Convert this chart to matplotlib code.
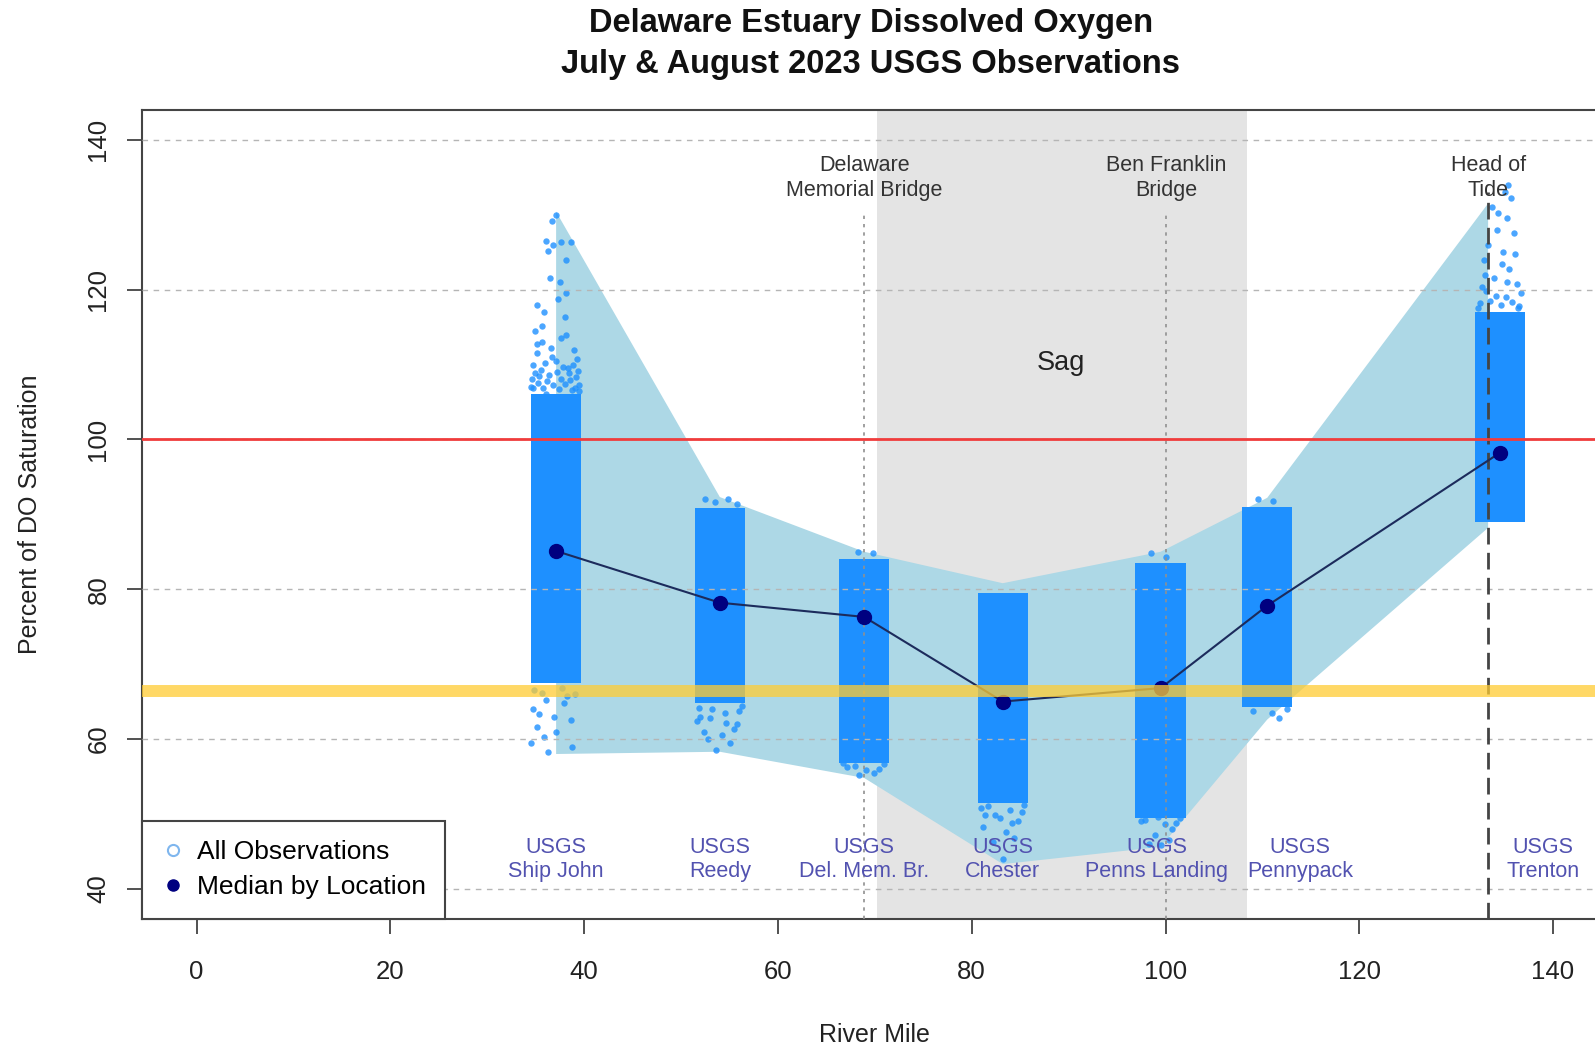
import matplotlib
matplotlib.use("Agg")
import matplotlib.pyplot as plt
from matplotlib.lines import Line2D

plt.rcParams['font.family'] = ['Liberation Sans', 'DejaVu Sans']

# ---------------- data ----------------
station_names = ["USGS\nShip John", "USGS\nReedy", "USGS\nDel. Mem. Br.", "USGS\nChester",
                 "USGS\nPenns Landing", "USGS\nPennypack", "USGS\nTrenton"]
station_mile = [37.1, 54.0, 68.9, 83.2, 99.5, 110.5, 134.5]
label_mile = [37.1, 54.0, 68.9, 83.2, 99.1, 113.9, 139.0]
median_do = [85.1, 78.2, 76.3, 65.0, 66.8, 77.8, 98.2]

# dense part of each observation cloud (low, high)
core_low = [67.5, 64.8, 56.8, 51.5, 49.5, 64.3, 89.0]
core_high = [106.0, 90.8, 84.0, 79.5, 83.5, 91.0, 117.0]

# envelope of observations (min / max by location)
envelope_mile = [37.1, 54.0, 68.9, 83.2, 99.5, 110.5, 133.3]
envelope_max = [130.4, 92.3, 85.0, 80.8, 85.0, 92.2, 131.5]
envelope_min = [58.0, 58.3, 54.8, 43.3, 45.6, 62.6, 88.2]

# sparse observations outside the dense part (offset from station mile, value)
shipjohn_dx = [0.0, -0.4, -1.0, -0.3, 0.5, 1.5, -0.8, 1.0, -0.6, 0.4, 1.0, 0.2, -2.0, -1.2, 0.9,
               -2.2, -1.5, -0.5, 1.8, 2.2, -2.4, 1.2, -1.8, 0.5, -2.6, 2.4, -1.0, 1.6, 0.0, -2.0,
               -2.4, -1.9, -1.4, -0.9, -0.3, 0.3, 0.9, 1.4, 1.9, 2.4, -2.2, -1.6, -0.7, 0.1,
               0.7, 1.3, 2.1, -2.5, -1.1, 1.7, -2.0, -0.4, 0.5, 2.3, -1.5, 1.0,
               -2.3, -1.0, 0.8, -1.8, 1.5, -2.0, 0.0, -1.2, -2.6, -0.8, 1.6, 2.0, -0.2, 0.6,
               -1.5, 1.1, -2.4]
shipjohn_y = [130.0, 129.2, 126.5, 126.0, 126.3, 126.4, 125.2, 124.0, 121.5, 121.0, 119.6, 118.8,
              118.0, 117.0, 116.4, 114.5, 113.0, 112.2, 112.0, 110.8, 110.0, 109.5, 108.4, 108.0,
              107.0, 106.5, 106.0, 106.6, 110.5, 111.5,
              106.8, 107.5, 106.9, 107.8, 107.2, 106.7, 107.4, 107.9, 106.8, 107.3, 108.8, 109.2,
              108.6, 109.0, 109.6, 108.9, 108.3, 108.1, 110.2, 110.0, 112.8, 111.0, 113.5, 109.1,
              115.2, 114.0,
              66.5, 65.2, 64.8, 63.4, 62.6, 61.6, 61.0, 60.3, 59.5, 58.3, 58.9, 66.0, 63.0, 66.8,
              66.2, 65.8, 64.0]
reedy_dx = [-1.5, -0.5, 0.8, 1.8, -2.2, 0.5, -1.0, 1.8, -1.6, 0.2, 1.0, -0.4, 2.0, -2.4,
            -2.0, -0.8, 0.6, 1.5, 2.3, -1.2]
reedy_y = [92.0, 91.7, 92.1, 91.4, 64.2, 63.5, 62.8, 62.0, 61.0, 60.5, 59.5, 58.6, 63.8, 62.4,
           63.0, 64.0, 62.2, 61.4, 64.4, 60.0]
delmem_dx = [-0.6, 0.9, -1.8, 0.2, 1.5, -0.5, 2.0, -2.2, -1.0, 1.0]
delmem_y = [85.0, 84.8, 56.3, 55.8, 56.0, 55.2, 56.6, 56.8, 56.4, 55.5]
chester_dx = [-1.5, 0.8, -0.3, 1.6, -2.0, 0.3, 1.2, -1.0, 0.0, 2.0, -2.2, -0.8, 1.0, -1.8, 2.2]
chester_y = [51.0, 50.5, 49.5, 49.0, 48.3, 47.6, 46.8, 46.2, 44.0, 50.2, 50.8, 49.8, 48.8,
             49.9, 51.2]
penns_dx = [-1.0, 0.5, -1.6, 0.4, 1.2, -0.6, 0.9, -1.2, 0.0, 2.0, -2.0, 1.6, -0.3]
penns_y = [84.8, 84.3, 49.2, 48.6, 48.0, 47.2, 46.5, 46.0, 45.8, 49.4, 49.0, 48.8, 49.6]
pennypack_dx = [-1.0, 0.6, 0.5, 1.2, -1.5, 2.0]
pennypack_y = [92.0, 91.8, 63.5, 62.8, 63.8, 64.0]
trenton_dx = [0.5, 1.2, -0.8, 0.8, -0.3, 1.5, -1.2, 0.3, -1.6, 1.0, -0.6, 1.8, -1.4, 0.6, 2.0,
              -2.0, 1.6, -0.2, 0.9, -2.2, -1.0, 0.1, 1.3, 2.2, -1.8, -0.4, 0.7, 1.9, -1.5, 0.2]
trenton_y = [133.0, 132.2, 131.0, 129.5, 128.0, 127.5, 126.0, 125.0, 124.0, 122.8, 121.6, 120.8,
             119.8, 119.0, 117.8, 118.2, 124.8, 130.2, 134.0, 117.6, 118.5, 117.9, 118.3, 119.5,
             120.4, 119.2, 121.0, 117.5, 122.0, 123.4]

tail_dx = [shipjohn_dx, reedy_dx, delmem_dx, chester_dx, penns_dx, pennypack_dx, trenton_dx]
tail_y = [shipjohn_y, reedy_y, delmem_y, chester_y, penns_y, pennypack_y, trenton_y]

bridge_names = ["Delaware\nMemorial Bridge", "Ben Franklin\nBridge", "Head of\nTide"]
bridge_mile = [68.9, 100.1, 133.3]

sag_start, sag_end = 70.2, 108.4
saturation_line = 100
standard_line = 66.4

x_ticks = [0, 20, 40, 60, 80, 100, 120, 140]
y_ticks = [40, 60, 80, 100, 120, 140]

# ---------------- figure ----------------
fig = plt.figure(figsize=(15.95, 10.51), dpi=100)
ax = fig.add_axes([0.0893, 0.1258, 0.9184, 0.7697])
ax.set_xlim(-5.6, 145.6)
ax.set_ylim(36, 144)

cloud_half = 2.6
cloud_color = '#1E90FF'

ax.axvspan(sag_start, sag_end, color='#e4e4e4', zorder=1, lw=0)

env_x = envelope_mile + envelope_mile[::-1]
env_y = envelope_max + envelope_min[::-1]
ax.fill(env_x, env_y, color='#ADD8E6', lw=0, zorder=2)

for i, x in enumerate(station_mile):
    ax.fill_between([x - cloud_half, x + cloud_half], core_low[i], core_high[i],
                    color=cloud_color, lw=0, zorder=3)
    ax.plot([x + d for d in tail_dx[i]], tail_y[i], 'o', color=cloud_color,
            markersize=4.6, alpha=0.8, mec='none', zorder=3)

for yv in y_ticks:
    ax.axhline(yv, color='#b5b5b5', lw=1.0, ls=(0, (4, 4)), zorder=4)

for j in range(2):
    ax.plot([bridge_mile[j], bridge_mile[j]], [36, 130.5], color='#909090', lw=1.2,
            ls=(0, (2, 3)), zorder=4)
ax.plot([bridge_mile[2], bridge_mile[2]], [36, 133.0], color='#444444', lw=2.0,
        ls=(0, (6, 3)), zorder=4)

for j, name in enumerate(bridge_names):
    ax.text(bridge_mile[j], 134.9, name, ha='center', va='center', fontsize=15.5,
            color='#333333', linespacing=1.2, zorder=7)

ax.text(89.2, 110.2, "Sag", ha='center', va='center', fontsize=19.5, color='#222222', zorder=7)

ax.plot(station_mile, median_do, '-', color='#1c2b5c', lw=1.5, zorder=6)
ax.plot(station_mile, median_do, 'o', color='#000080', markersize=10, zorder=6)

ax.axhline(saturation_line, color='#f03c3c', lw=2.0, zorder=6.5)
ax.axhline(standard_line, color='#FFCC33', lw=8.6, alpha=0.75, zorder=6.5)

for i, name in enumerate(station_names):
    ax.text(label_mile[i], 43.9, name, ha='center', va='center', fontsize=15.5,
            color='#5252b0', linespacing=1.2, zorder=7)

ax.set_xticks(x_ticks)
ax.set_yticks(y_ticks)
ax.tick_params(axis='both', labelsize=18.5, length=11, width=1.2, color='#333333',
               labelcolor='#222222')
ax.tick_params(axis='x', pad=19)
ax.tick_params(axis='y', pad=12)
for lab in ax.get_yticklabels():
    lab.set_rotation(90)
    lab.set_va('center')
for s in ax.spines.values():
    s.set_color('#444444')
    s.set_linewidth(1.5)

ax.set_xlabel("River Mile", fontsize=18, color='#222222', labelpad=28)
ax.set_ylabel("Percent of DO Saturation", fontsize=18, color='#222222', labelpad=32)

handles = [Line2D([], [], marker='o', ls='none', mfc='white', mec='#7fb6ee', mew=1.5, markersize=8),
           Line2D([], [], marker='o', ls='none', color='#000080', markersize=8)]
leg = ax.legend(handles, ["All Observations", "Median by Location"], loc='lower left',
                bbox_to_anchor=(0, 0), borderaxespad=0, fontsize=19, frameon=True,
                fancybox=False, framealpha=1, edgecolor='#444444', handlelength=0.8,
                handletextpad=0.5, borderpad=0.75, labelspacing=0.4)
leg.get_frame().set_linewidth(1.5)
leg.set_zorder(10)

fig.text(0.546, 0.978, "Delaware Estuary Dissolved Oxygen", ha='center', va='center',
         fontsize=23.5, fontweight='bold', color='#111111')
fig.text(0.546, 0.939, "July & August 2023 USGS Observations", ha='center', va='center',
         fontsize=23.5, fontweight='bold', color='#111111')

fig.savefig("out.png", dpi=100)
